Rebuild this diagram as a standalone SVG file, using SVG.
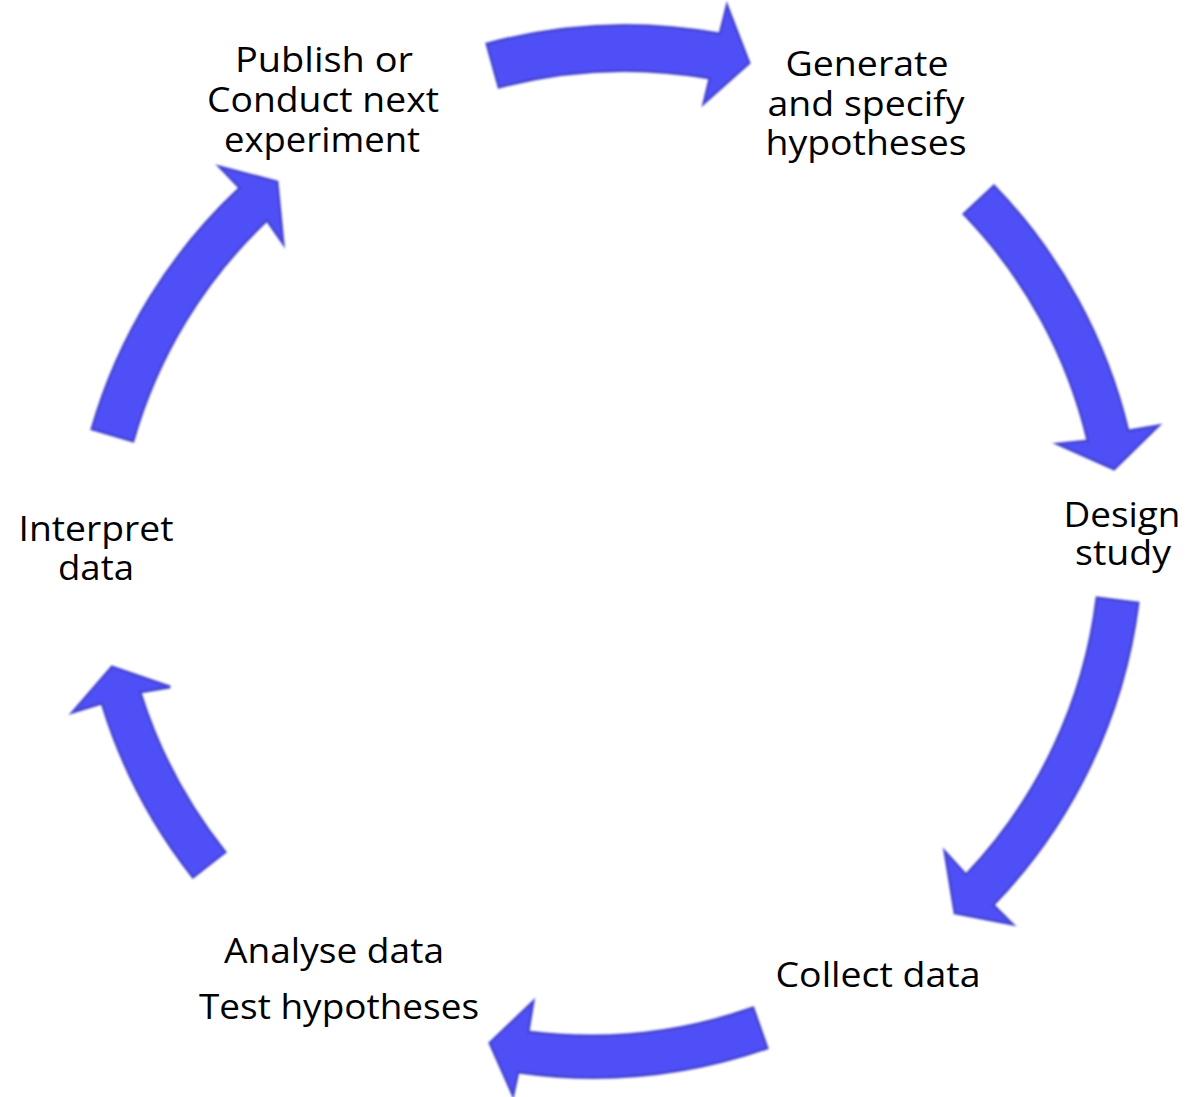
<svg xmlns="http://www.w3.org/2000/svg" width="1186" height="1097" viewBox="0 0 1186 1097">
  <style>
    .label { font-family: "Open Sans", "Noto Sans", "Liberation Sans", sans-serif; font-size: 34px; fill: #000; text-anchor: middle; }
    .arrow { fill: #5050f8; stroke: #4545d0; stroke-width: 2.5; stroke-linejoin: miter; }
    .halo { fill: none; stroke: #6c6cf4; stroke-width: 3.5; stroke-opacity: 0.55; }
  </style>
  <defs>
    <filter id="soft" x="-10%" y="-10%" width="120%" height="120%">
      <feGaussianBlur stdDeviation="0.9"/>
    </filter>
  </defs>
  <rect width="1186" height="1097" fill="#fff"/>

  <!-- curved block arrows running clockwise round the cycle -->
  <g id="connectors" filter="url(#soft)">
    <g id="arrow-publish-generate">
      <path class="halo" d="M487,44 A530,530 0 0 1 720,34 L727,6 L749,63 L704,103 L710,78 A488,488 0 0 0 499,87 Z"/>
      <path class="arrow" d="M487,44 A530,530 0 0 1 720,34 L727,6 L749,63 L704,103 L710,78 A488,488 0 0 0 499,87 Z"/>
    </g>
    <g id="arrow-generate-design">
      <path class="halo" d="M994,186 A530,530 0 0 1 1128,431 L1158,426 L1114,469 L1058,444 L1088,441 A488,488 0 0 0 964,214 Z"/>
      <path class="arrow" d="M994,186 A530,530 0 0 1 1128,431 L1158,426 L1114,469 L1058,444 L1088,441 A488,488 0 0 0 964,214 Z"/>
    </g>
    <g id="arrow-design-collect">
      <path class="halo" d="M1138,603 A530,530 0 0 1 993,905 L1012,924 L955,913 L945,852 L966,875 A488,488 0 0 0 1097,598 Z"/>
      <path class="arrow" d="M1138,603 A530,530 0 0 1 993,905 L1012,924 L955,913 L945,852 L966,875 A488,488 0 0 0 1097,598 Z"/>
    </g>
    <g id="arrow-collect-analyse">
      <path class="halo" d="M767,1048 A530,530 0 0 1 518,1072 L513,1095 L490,1043 L533,1002 L528,1032 A488,488 0 0 0 753,1008 Z"/>
      <path class="arrow" d="M767,1048 A530,530 0 0 1 518,1072 L513,1095 L490,1043 L533,1002 L528,1032 A488,488 0 0 0 753,1008 Z"/>
    </g>
    <g id="arrow-analyse-interpret">
      <path class="halo" d="M193,877 A530,530 0 0 1 102,703 L73,712 L112,667 L170,687 L140,692 A488,488 0 0 0 225,852 Z"/>
      <path class="arrow" d="M193,877 A530,530 0 0 1 102,703 L73,712 L112,667 L170,687 L140,692 A488,488 0 0 0 225,852 Z"/>
    </g>
    <g id="arrow-interpret-publish">
      <path class="halo" d="M92,429 A530,530 0 0 1 240,188 L220,167 L277,182 L283,243 L267,220 A488,488 0 0 0 133,441 Z"/>
      <path class="arrow" d="M92,429 A530,530 0 0 1 240,188 L220,167 L277,182 L283,243 L267,220 A488,488 0 0 0 133,441 Z"/>
    </g>
  </g>

  <!-- stage labels -->
  <g id="node-publish">
    <text class="label" x="324" y="72" textLength="178" lengthAdjust="spacingAndGlyphs">Publish or</text>
    <text class="label" x="323" y="112" textLength="232" lengthAdjust="spacingAndGlyphs">Conduct next</text>
    <text class="label" x="322" y="152" textLength="196" lengthAdjust="spacingAndGlyphs">experiment</text>
  </g>
  <g id="node-generate">
    <text class="label" x="867" y="76" textLength="163" lengthAdjust="spacingAndGlyphs">Generate</text>
    <text class="label" x="866" y="116" textLength="197" lengthAdjust="spacingAndGlyphs">and specify</text>
    <text class="label" x="866" y="155" textLength="201" lengthAdjust="spacingAndGlyphs">hypotheses</text>
  </g>
  <g id="node-design">
    <text class="label" x="1122" y="527" textLength="117" lengthAdjust="spacingAndGlyphs">Design</text>
    <text class="label" x="1123" y="565" textLength="96" lengthAdjust="spacingAndGlyphs">study</text>
  </g>
  <g id="node-collect">
    <text class="label" x="878" y="987" textLength="205" lengthAdjust="spacingAndGlyphs">Collect data</text>
  </g>
  <g id="node-analyse">
    <text class="label" x="334" y="963" textLength="220" lengthAdjust="spacingAndGlyphs">Analyse data</text>
    <text class="label" x="339" y="1019" textLength="280" lengthAdjust="spacingAndGlyphs">Test hypotheses</text>
  </g>
  <g id="node-interpret">
    <text class="label" x="96" y="541" textLength="155" lengthAdjust="spacingAndGlyphs">Interpret</text>
    <text class="label" x="96" y="580" textLength="76" lengthAdjust="spacingAndGlyphs">data</text>
  </g>
</svg>
